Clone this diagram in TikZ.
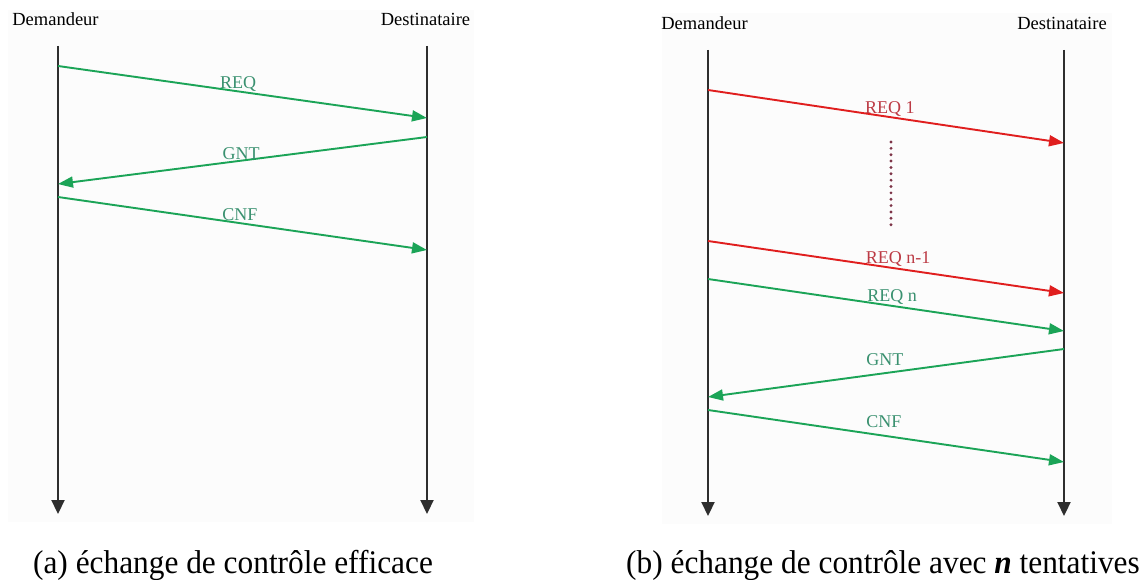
\documentclass[tikz,border=0pt]{standalone}
\usepackage{fontspec}
\setmainfont{Liberation Serif}
\usetikzlibrary{arrows.meta}

\definecolor{okline}{HTML}{1BA457}
\definecolor{oktext}{HTML}{3A9170}
\definecolor{failline}{HTML}{E01E1E}
\definecolor{failtext}{HTML}{BC3A44}
\definecolor{dotcol}{HTML}{7D3447}
\definecolor{lifecol}{HTML}{2E2E2E}
\definecolor{panelbg}{HTML}{FCFCFC}

\tikzset{
  panel/.style={fill=panelbg, draw=none},
  actor/.style={font=\fontsize{18.5}{20}\selectfont, inner sep=0pt, anchor=base},
  lifeline/.style={draw=lifecol, line width=2.2pt, -{Triangle[length=14pt,width=13pt]}},
  okmsg/.style={draw=okline, line width=1.9pt, -{Triangle[length=15pt,width=11pt]}},
  failmsg/.style={draw=failline, line width=1.9pt, -{Triangle[length=15pt,width=11pt]}},
  oklbl/.style={font=\fontsize{18}{20}\selectfont, text=oktext, inner sep=0pt, anchor=base},
  faillbl/.style={font=\fontsize{18}{20}\selectfont, text=failtext, inner sep=0pt, anchor=base},
  ellipsis/.style={draw=dotcol, line width=3.2pt, line cap=round, dash pattern=on 0pt off 6.36pt},
  caption/.style={font=\fontsize{33}{35}\selectfont, inner sep=0pt, anchor=base}
}

\begin{document}
\begin{tikzpicture}[x=1pt, y=-1pt]
  \useasboundingbox (0,0) rectangle (1148,580);

  % faint backgrounds of the two sub-figures
  \path[panel] (8,10) rectangle (474,522);
  \path[panel] (662,13) rectangle (1112,524);

  % ---------- (a) exchange without retries ----------
  \node[actor] (aSrc) at (55.5,26) {Demandeur};
  \node[actor] (aDst) at (425.5,26) {Destinataire};

  \coordinate (aSrcTop) at (58,46);
  \coordinate (aSrcEnd) at (58,514);
  \coordinate (aDstTop) at (427,46);
  \coordinate (aDstEnd) at (427,514);
  \draw[lifeline] (aSrcTop) -- (aSrcEnd);
  \draw[lifeline] (aDstTop) -- (aDstEnd);

  \coordinate (aReqS) at (58,66);   \coordinate (aReqE) at (427,118);
  \coordinate (aGntS) at (427,137); \coordinate (aGntE) at (58,184);
  \coordinate (aCnfS) at (58,197);  \coordinate (aCnfE) at (427,250);

  \draw[okmsg] (aReqS) -- node[oklbl, pos=0.488, yshift=2.4pt] (aReqL) {REQ} (aReqE);
  \draw[okmsg] (aGntS) -- node[oklbl, pos=0.504, yshift=1.2pt] (aGntL) {GNT} (aGntE);
  \draw[okmsg] (aCnfS) -- node[oklbl, pos=0.493, yshift=3pt] (aCnfL) {CNF} (aCnfE);

  \node[caption] (aCap) at (233,573) {\scalebox{0.95}[1]{(a) échange de contrôle efficace}};

  % ---------- (b) exchange with n attempts ----------
  \node[actor] (bSrc) at (704.5,30) {Demandeur};
  \node[actor] (bDst) at (1062,30) {Destinataire};

  \coordinate (bSrcTop) at (708,50);
  \coordinate (bSrcEnd) at (708,516);
  \coordinate (bDstTop) at (1064,50);
  \coordinate (bDstEnd) at (1064,516);
  \draw[lifeline] (bSrcTop) -- (bSrcEnd);
  \draw[lifeline] (bDstTop) -- (bDstEnd);

  \coordinate (bReq1S) at (708,90);   \coordinate (bReq1E) at (1064,143);
  \coordinate (bReqmS) at (708,241);  \coordinate (bReqmE) at (1064,293);
  \coordinate (bReqnS) at (708,279);  \coordinate (bReqnE) at (1064,331);
  \coordinate (bGntS) at (1064,349);  \coordinate (bGntE) at (708,397);
  \coordinate (bCnfS) at (708,410);   \coordinate (bCnfE) at (1064,462);

  \draw[failmsg] (bReq1S) -- node[faillbl, pos=0.511, yshift=4pt] (bReq1L) {REQ 1} (bReq1E);

  \coordinate (bDotTop) at (891,142);
  \coordinate (bDotEnd) at (891,231);
  \draw[ellipsis] (bDotTop) -- (bDotEnd);

  \draw[failmsg] (bReqmS) -- node[faillbl, pos=0.534, yshift=5pt] (bReqmL) {REQ n-1} (bReqmE);
  \draw[okmsg] (bReqnS) -- node[oklbl, pos=0.517, yshift=4pt] (bReqnL) {REQ n} (bReqnE);
  \draw[okmsg] (bGntS) -- node[oklbl, pos=0.503, yshift=8pt] (bGntL) {GNT} (bGntE);
  \draw[okmsg] (bCnfS) -- node[oklbl, pos=0.494, yshift=8.5pt] (bCnfL) {CNF} (bCnfE);

  \node[caption] (bCap) at (883,573) {\scalebox{0.95}[1]{(b) échange de contrôle avec \textbf{\textit{n}} tentatives}};
\end{tikzpicture}
\end{document}
